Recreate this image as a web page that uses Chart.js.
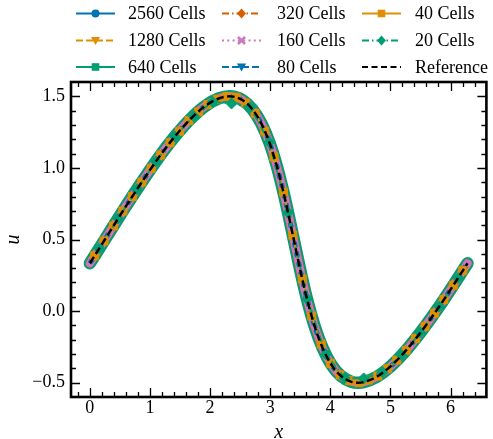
<!DOCTYPE html>
<html><head><meta charset="utf-8">
<script src="https://cdn.jsdelivr.net/npm/chart.js@4.4.1/dist/chart.umd.min.js"></script>
<style>html,body{margin:0;padding:0;background:#fff;}canvas{display:block;}</style>
</head><body>
<canvas id="c" width="493" height="439"></canvas>
<script>
// ---- data ----
const refX = [0, 0.250, 0.549, 0.845, 1.132, 1.409, 1.671, 1.916, 2.143, 2.321, 2.537, 2.705, 2.854, 2.988, 3.108, 3.218, 3.321, 3.421, 3.522, 3.629, 3.744, 3.872, 4.014, 4.174, 4.353, 4.462, 4.552, 4.771, 5.008, 5.264, 5.534, 5.818, 6.110, 6.283];
const refU = [0.334, 0.500, 0.699, 0.889, 1.065, 1.217, 1.341, 1.432, 1.485, 1.500, 1.474, 1.409, 1.309, 1.176, 1.016, 0.835, 0.641, 0.442, 0.245, 0.057, -0.112, -0.257, -0.372, -0.452, -0.494, -0.500, -0.496, -0.459, -0.384, -0.273, -0.131, 0.035, 0.221, 0.334];

const x40 = [0.079, 0.236, 0.393, 0.550, 0.707, 0.864, 1.021, 1.178, 1.335, 1.492, 1.649, 1.806, 1.963, 2.121, 2.278, 2.435, 2.592, 2.749, 2.906, 3.063, 3.220, 3.377, 3.534, 3.691, 3.848, 4.006, 4.163, 4.320, 4.477, 4.634, 4.791, 4.948, 5.105, 5.262, 5.419, 5.576, 5.733, 5.890, 6.048, 6.205];
const u40 = [0.386, 0.490, 0.595, 0.699, 0.800, 0.901, 0.997, 1.090, 1.176, 1.256, 1.331, 1.391, 1.443, 1.480, 1.499, 1.493, 1.453, 1.380, 1.257, 1.076, 0.831, 0.530, 0.224, -0.034, -0.230, -0.365, -0.446, -0.486, -0.500, -0.482, -0.453, -0.403, -0.342, -0.274, -0.191, -0.106, -0.015, 0.081, 0.181, 0.283];

const x20 = [0.157, 0.471, 0.785, 1.100, 1.414, 1.728, 2.042, 2.356, 2.670, 2.985, 3.299, 3.613, 3.927, 4.241, 4.555, 4.869, 5.184, 5.498, 5.812, 6.126];
const u20 = [0.438, 0.647, 0.851, 1.045, 1.219, 1.362, 1.461, 1.450, 1.423, 1.179, 0.689, 0.085, -0.302, -0.468, -0.470, -0.428, -0.308, -0.150, 0.032, 0.231];

const seriesLabels = ['2560 Cells', '1280 Cells', '640 Cells', '320 Cells', '160 Cells', '80 Cells', '40 Cells', '20 Cells', 'Reference'];
const xTicks = [0, 1, 2, 3, 4, 5, 6];
const xTickLabels = ['0', '1', '2', '3', '4', '5', '6'];
const yTicks = [-0.5, 0, 0.5, 1.0, 1.5];
const yTickLabels = ['\u22120.5', '0.0', '0.5', '1.0', '1.5'];

// ---- styles ----
const BLUE = '#0173B2', ORANGE = '#DE8F05', GREEN = '#029E73', VERM = '#D55E00', PINK = '#CC78BC';
const SERIF = "'Liberation Serif', 'Times New Roman', serif";

function pts(xs, ys) { return xs.map((x, i) => ({x: x, y: ys[i]})); }

const band = (label, color, width, order, dash) => ({
  label, data: pts(refX, refU), borderColor: color, backgroundColor: color,
  borderWidth: width, pointRadius: 0, borderCapStyle: 'round', borderJoinStyle: 'round',
  borderDash: dash || [], cubicInterpolationMode: 'monotone', order
});

const datasets = [
  band(seriesLabels[0], BLUE, 9, 9),
  band(seriesLabels[1], ORANGE, 10, 8),
  band(seriesLabels[2], GREEN, 12.5, 7),
  band(seriesLabels[3], VERM, 8.5, 6),
  band(seriesLabels[4], PINK, 8, 5),
  Object.assign(band(seriesLabels[5], BLUE, 5, 4, [5, 5]), {borderCapStyle: 'butt'}),
  {label: seriesLabels[6], data: pts(x40, u40), borderColor: ORANGE, backgroundColor: ORANGE, borderWidth: 2,
   pointStyle: 'rect', pointRadius: 5.6, pointBorderWidth: 1, pointBorderColor: ORANGE, pointBackgroundColor: ORANGE, order: 3},
  {label: seriesLabels[7], data: pts(x20, u20), borderColor: GREEN, backgroundColor: GREEN, borderWidth: 2,
   borderDash: [7, 3, 1.5, 3],
   pointStyle: 'rectRot', pointRadius: 5.5, pointBorderWidth: 1, pointBorderColor: GREEN, pointBackgroundColor: GREEN, order: 2},
  {label: seriesLabels[8], data: pts(refX, refU), borderColor: '#000', borderWidth: 2.5, borderDash: [7.5, 3.5],
   pointRadius: 0, cubicInterpolationMode: 'monotone', order: 1}
];

// legend styling (columns laid out like the reference)
const legendStyle = [
  {color: BLUE, dash: [], marker: 'circle'},
  {color: ORANGE, dash: [7, 3], marker: 'triDown'},
  {color: GREEN, dash: [], marker: 'square'},
  {color: VERM, dash: [7, 3, 1.5, 3], marker: 'diamond'},
  {color: PINK, dash: [2, 3.3], marker: 'X'},
  {color: BLUE, dash: [7, 3], marker: 'triDown'},
  {color: ORANGE, dash: [], marker: 'square'},
  {color: GREEN, dash: [7, 3, 1.5, 3], marker: 'diamond'},
  {color: '#000', dash: [6, 3.5], marker: null}
];
const legCols = [{h: 76, t: 128}, {h: 222, t: 277}, {h: 362, t: 415}];
const legRows = [13.5, 40.5, 67];

function drawMarker(ctx, type, x, y, color) {
  ctx.save();
  ctx.setLineDash([]);
  ctx.fillStyle = color; ctx.strokeStyle = color;
  ctx.beginPath();
  if (type === 'circle') { ctx.arc(x, y, 4, 0, Math.PI * 2); ctx.fill(); }
  else if (type === 'triDown') { ctx.moveTo(x - 4.6, y - 3.6); ctx.lineTo(x + 4.6, y - 3.6); ctx.lineTo(x, y + 4.4); ctx.closePath(); ctx.fill(); }
  else if (type === 'square') { ctx.rect(x - 3.8, y - 3.8, 7.6, 7.6); ctx.fill(); }
  else if (type === 'diamond') { ctx.moveTo(x, y - 5); ctx.lineTo(x + 4.5, y); ctx.lineTo(x, y + 5); ctx.lineTo(x - 4.5, y); ctx.closePath(); ctx.fill(); }
  else if (type === 'X') { ctx.lineWidth = 2.6; ctx.moveTo(x - 3.5, y - 3.5); ctx.lineTo(x + 3.5, y + 3.5); ctx.moveTo(x + 3.5, y - 3.5); ctx.lineTo(x - 3.5, y + 3.5); ctx.stroke(); }
  ctx.restore();
}

const framePlugin = {
  id: 'frameTicks',
  afterDatasetsDraw(chart) {
    const {ctx, chartArea: a, scales} = chart;
    const sx = scales.x, sy = scales.y;
    ctx.save();
    ctx.strokeStyle = '#000';
    ctx.lineWidth = 1.3;
    ctx.beginPath();
    for (let k = -1; k <= 32; k++) {
      const v = k * 0.2;
      const px = Math.round(sx.getPixelForValue(v)) + 0.5;
      if (px <= a.left + 1 || px >= a.right - 1) continue;
      const L = (k % 5 === 0) ? 9 : 5;
      ctx.moveTo(px, a.bottom); ctx.lineTo(px, a.bottom - L);
      ctx.moveTo(px, a.top); ctx.lineTo(px, a.top + L);
    }
    for (let k = -5; k <= 15; k++) {
      const v = k / 10;
      const py = Math.round(sy.getPixelForValue(v)) + 0.5;
      const L = (k % 5 === 0) ? 9 : 5;
      ctx.moveTo(a.left, py); ctx.lineTo(a.left + L, py);
      ctx.moveTo(a.right, py); ctx.lineTo(a.right - L, py);
    }
    ctx.stroke();
    ctx.lineWidth = 2.6;
    ctx.strokeRect(a.left, a.top, a.right - a.left, a.bottom - a.top);
    ctx.restore();
  },
  afterDraw(chart) {
    const ctx = chart.ctx;
    ctx.save();
    ctx.font = '18px ' + SERIF;
    ctx.textBaseline = 'middle';
    ctx.textAlign = 'left';
    seriesLabels.forEach((lab, i) => {
      const col = legCols[Math.floor(i / 3)], y = legRows[i % 3];
      const st = legendStyle[i];
      ctx.save();
      ctx.strokeStyle = st.color; ctx.lineWidth = 2.2;
      ctx.setLineDash(st.dash);
      ctx.beginPath(); ctx.moveTo(col.h, y); ctx.lineTo(col.h + 39, y); ctx.stroke();
      ctx.restore();
      if (st.marker) drawMarker(ctx, st.marker, col.h + 19.5, y, st.color);
      ctx.fillStyle = '#000';
      ctx.fillText(lab, col.t, y + 1);
    });
    ctx.restore();
  }
};

new Chart(document.getElementById('c'), {
  type: 'line',
  data: {datasets},
  options: {
    responsive: false, animation: false, devicePixelRatio: 1,
    layout: {padding: {top: 82, right: 3, left: 0, bottom: 0}},
    plugins: {legend: {display: false}, tooltip: {enabled: false}},
    elements: {line: {tension: 0}},
    scales: {
      x: {
        type: 'linear', min: -0.314, max: 6.597,
        grid: {display: false, drawTicks: false},
        border: {display: false},
        afterBuildTicks: s => { s.ticks = xTicks.map(v => ({value: v})); },
        afterFit: s => { s.height = 42; },
        ticks: {
          autoSkip: false, maxRotation: 0, padding: 0, color: '#000',
          font: {family: SERIF, size: 18},
          callback: (v) => { const i = xTicks.indexOf(v); return i >= 0 ? xTickLabels[i] : ''; }
        },
        title: {display: true, text: 'x', color: '#000', padding: {top: 0, bottom: -4},
                font: {family: SERIF, size: 20, style: 'italic', lineHeight: 1}}
      },
      y: {
        type: 'linear', min: -0.6, max: 1.6,
        grid: {display: false, drawTicks: false},
        border: {display: false},
        afterBuildTicks: s => { s.ticks = yTicks.map(v => ({value: v})); },
        afterFit: s => { s.width = 71; },
        ticks: {
          autoSkip: false, padding: 6, color: '#000',
          font: {family: SERIF, size: 18},
          callback: (v) => { const i = yTicks.indexOf(v); return i >= 0 ? yTickLabels[i] : ''; }
        },
        title: {display: true, text: 'u', color: '#000', padding: {top: 4, bottom: 0},
                font: {family: SERIF, size: 20, style: 'italic', lineHeight: 1}}
      }
    }
  },
  plugins: [framePlugin]
});
</script>
</body></html>
